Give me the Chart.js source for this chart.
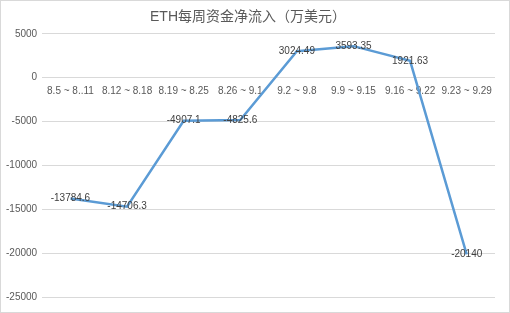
<!DOCTYPE html>
<html>
<head>
<meta charset="utf-8">
<script src="https://cdn.jsdelivr.net/npm/chart.js@4/dist/chart.umd.min.js"></script>
<style>
  html, body { margin: 0; padding: 0; background: #fff; }
  #wrap { width: 508px; height: 311px; border: 1px solid #d9d9d9; position: relative; }
</style>
</head>
<body>
<div id="wrap"><canvas id="c"></canvas></div>
<script>
const weeks = ["8.5 ~ 8..11", "8.12 ~ 8.18", "8.19 ~ 8.25", "8.26 ~ 9.1", "9.2 ~ 9.8", "9.9 ~ 9.15", "9.16 ~ 9.22", "9.23 ~ 9.29"]
const netInflow = [-13784.6, -14706.3, -4907.1, -4825.6, 3024.49, 3593.35, 1921.63, -20140]
const yTicks = [5000, 0, -5000, -10000, -15000, -20000, -25000]

const FONT = "'Liberation Sans', 'Noto Sans CJK SC', sans-serif"

// draw the value next to each point, centered on it
const valueLabels = {
  id: "valueLabels",
  afterDatasetsDraw(chart) {
    const { ctx } = chart
    ctx.save()
    ctx.font = `10px ${FONT}`
    ctx.fillStyle = "#404040"
    ctx.textAlign = "center"
    ctx.textBaseline = "middle"
    chart.data.datasets.forEach((ds, i) => {
      chart.getDatasetMeta(i).data.forEach((pt, j) => {
        ctx.fillText(String(ds.data[j]), pt.x, pt.y)
      })
    })
    ctx.restore()
  }
}

new Chart(document.getElementById("c"), {
  type: "line",
  data: {
    labels: weeks,
    datasets: [{
      data: netInflow,
      borderColor: "#5b9bd5",
      borderWidth: 2.5,
      pointRadius: 0,
      tension: 0,
      fill: false
    }]
  },
  plugins: [valueLabels],
  options: {
    responsive: true,
    maintainAspectRatio: false,
    animation: false,
    layout: { padding: { top: 0, right: 14, bottom: 15, left: 0 } },
    plugins: {
      legend: { display: false },
      tooltip: { enabled: false },
      title: {
        display: true,
        text: "ETH每周资金净流入（万美元）",
        color: "#595959",
        font: { family: FONT, size: 14, weight: "normal" },
        padding: { top: 8, bottom: 8 }
      }
    },
    scales: {
      x: {
        position: { y: 0 },
        offset: true,
        grid: { display: false, drawTicks: false },
        border: { display: false },
        ticks: { color: "#595959", font: { family: FONT, size: 10 }, padding: 8, maxRotation: 0, autoSkip: false }
      },
      y: {
        min: -25000,
        max: 5000,
        afterBuildTicks: (s) => { s.ticks = yTicks.map(v => ({ value: v })) },
        grid: { color: "#d9d9d9", drawTicks: false },
        border: { display: false },
        ticks: { color: "#595959", font: { family: FONT, size: 10 }, padding: 5, callback: (v) => String(v) }
      }
    }
  }
})
</script>
</body>
</html>
